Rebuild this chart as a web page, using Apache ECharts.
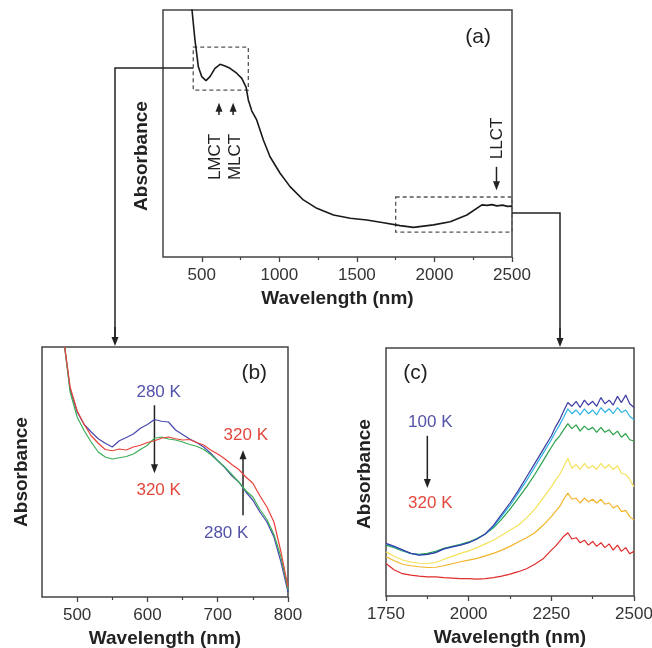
<!DOCTYPE html>
<html>
<head>
<meta charset="utf-8">
<script src="https://cdn.jsdelivr.net/npm/echarts@6/dist/echarts.min.js"></script>
<style>
  html, body { margin: 0; background: #fff; }
  #chart { width: 652px; height: 648px; }
</style>
</head>
<body>
<div id="chart"></div>
<script>
// ---- panel (a): full spectrum ----
const aWl  = [425, 437, 456, 478, 500, 527, 553, 585, 618, 650, 682, 725, 758, 786, 800, 812, 822, 830, 854, 897, 940, 1005, 1069, 1155, 1242, 1349, 1457, 1564, 1672, 1779, 1865, 1994, 2102, 2209, 2306, 2340, 2370, 2403, 2440, 2470, 2500];
const aAbs = [1.06, 1.0, 0.879, 0.770, 0.730, 0.714, 0.730, 0.764, 0.780, 0.773, 0.764, 0.744, 0.723, 0.687, 0.636, 0.612, 0.592, 0.585, 0.555, 0.474, 0.406, 0.339, 0.285, 0.231, 0.197, 0.170, 0.157, 0.150, 0.139, 0.127, 0.120, 0.130, 0.143, 0.170, 0.211, 0.209, 0.212, 0.207, 0.210, 0.205, 0.206];
const aTicks = [500, 1000, 1500, 2000, 2500];
const aMinor = [750, 1250, 1750, 2250];
// zoom boxes [x1, x2, y1, y2]
const boxB = [445, 800, 0.676, 0.850];
const boxC = [1750, 2500, 0.101, 0.243];

// ---- panel (b): 450-800 nm ----
const bWl = [480, 490, 500, 510, 520, 530, 540, 550, 560, 570, 580, 590, 600, 610, 620, 630, 640, 650, 660, 670, 680, 690, 700, 710, 720, 730, 740, 750, 760, 770, 780, 790, 800];
const b280 = [1.05, 0.83, 0.74, 0.69, 0.66, 0.633, 0.615, 0.600, 0.625, 0.638, 0.652, 0.675, 0.690, 0.710, 0.703, 0.700, 0.668, 0.650, 0.632, 0.618, 0.600, 0.575, 0.545, 0.518, 0.485, 0.460, 0.420, 0.387, 0.340, 0.300, 0.240, 0.140, 0.02];
const b300 = [1.05, 0.82, 0.72, 0.665, 0.62, 0.580, 0.560, 0.552, 0.557, 0.562, 0.572, 0.590, 0.607, 0.635, 0.640, 0.632, 0.628, 0.620, 0.610, 0.603, 0.590, 0.570, 0.545, 0.520, 0.490, 0.460, 0.425, 0.400, 0.350, 0.310, 0.250, 0.160, 0.03];
const b320 = [1.05, 0.84, 0.745, 0.69, 0.645, 0.615, 0.590, 0.585, 0.592, 0.588, 0.600, 0.607, 0.618, 0.625, 0.635, 0.640, 0.633, 0.628, 0.630, 0.618, 0.608, 0.588, 0.572, 0.553, 0.530, 0.510, 0.480, 0.455, 0.405, 0.360, 0.300, 0.180, 0.04];
const bTicks = [500, 600, 700, 800];
const bMinor = [550, 650, 750];

// ---- panel (c): 1750-2500 nm ----
const cWl = [1750, 1775, 1800, 1825, 1850, 1875, 1900, 1925, 1950, 1975, 2000, 2025, 2050, 2075, 2100, 2125, 2150, 2175, 2200, 2225,
             2250, 2262, 2275, 2287, 2300, 2312, 2325, 2337, 2350, 2362, 2375, 2387, 2400, 2412, 2425, 2437, 2450, 2462, 2475, 2487, 2500];
const c100 = [0.212, 0.200, 0.186, 0.172, 0.165, 0.168, 0.175, 0.190, 0.198, 0.205, 0.215, 0.230, 0.250, 0.285, 0.330, 0.375, 0.425, 0.480, 0.535, 0.590,
              0.645, 0.680, 0.710, 0.745, 0.780, 0.765, 0.785, 0.760, 0.790, 0.770, 0.785, 0.765, 0.800, 0.775, 0.790, 0.770, 0.805, 0.780, 0.810, 0.775, 0.760];
const c150 = [0.210, 0.198, 0.184, 0.172, 0.166, 0.168, 0.176, 0.190, 0.198, 0.206, 0.215, 0.230, 0.250, 0.280, 0.322, 0.365, 0.415, 0.465, 0.520, 0.575,
              0.630, 0.660, 0.690, 0.720, 0.755, 0.735, 0.750, 0.730, 0.755, 0.735, 0.750, 0.730, 0.760, 0.740, 0.755, 0.735, 0.760, 0.740, 0.750, 0.725, 0.710];
const c200 = [0.205, 0.195, 0.182, 0.172, 0.168, 0.172, 0.180, 0.192, 0.200, 0.208, 0.218, 0.232, 0.250, 0.275, 0.310, 0.350, 0.395, 0.440, 0.490, 0.545,
              0.600, 0.625, 0.645, 0.670, 0.695, 0.675, 0.690, 0.665, 0.685, 0.670, 0.680, 0.660, 0.680, 0.660, 0.670, 0.650, 0.665, 0.640, 0.655, 0.630, 0.625];
const c250 = [0.178, 0.160, 0.145, 0.137, 0.132, 0.131, 0.135, 0.148, 0.160, 0.172, 0.182, 0.195, 0.210, 0.225, 0.245, 0.265, 0.285, 0.315, 0.350, 0.395,
              0.440, 0.465, 0.490, 0.520, 0.555, 0.515, 0.530, 0.510, 0.535, 0.515, 0.525, 0.510, 0.535, 0.515, 0.530, 0.510, 0.525, 0.495, 0.490, 0.470, 0.440];
const c280 = [0.158, 0.142, 0.128, 0.122, 0.118, 0.115, 0.116, 0.122, 0.130, 0.138, 0.145, 0.152, 0.162, 0.172, 0.185, 0.200, 0.218, 0.235, 0.255, 0.285,
              0.320, 0.340, 0.360, 0.390, 0.415, 0.390, 0.395, 0.375, 0.395, 0.380, 0.390, 0.375, 0.390, 0.370, 0.375, 0.355, 0.365, 0.340, 0.345, 0.320, 0.306];
const c320 = [0.131, 0.105, 0.090, 0.084, 0.080, 0.077, 0.077, 0.074, 0.072, 0.070, 0.070, 0.068, 0.070, 0.074, 0.080, 0.088, 0.098, 0.110, 0.128, 0.150,
              0.185, 0.200, 0.220, 0.240, 0.255, 0.230, 0.235, 0.215, 0.225, 0.205, 0.220, 0.200, 0.215, 0.195, 0.210, 0.185, 0.205, 0.180, 0.195, 0.170, 0.180];
const cTicks = [1750, 2000, 2250, 2500];
const cMinor = [1875, 2125, 2375];

const FONT = '"Liberation Sans", Arial, sans-serif';
const AXIS = '#444';
const BLUE_T = '#5252a8';
const RED_T = '#e2473c';

const zip = (xs, ys) => xs.map((x, i) => [x, ys[i]]);

function lineSeries(g, xs, ys, color, width) {
    return {
        type: 'line', xAxisIndex: g, yAxisIndex: g,
        data: zip(xs, ys), showSymbol: false, symbol: 'none',
        lineStyle: { color: color, width: width }, silent: true, animation: false
    };
}

function majorAxis(g, min, max, ticks) {
    return {
        type: 'value', gridIndex: g, min: min, max: max, position: 'bottom',
        name: 'Wavelength (nm)', nameLocation: 'middle', nameGap: 32,
        nameTextStyle: { fontFamily: FONT, fontWeight: 'bold', fontSize: 19, color: '#222' },
        axisLine: { show: false },
        axisTick: { show: true, length: 5, customValues: ticks, lineStyle: { color: AXIS, width: 1.3 } },
        axisLabel: { customValues: ticks, margin: 10, fontFamily: FONT, fontSize: 17, color: '#333', formatter: v => String(v) },
        splitLine: { show: false }
    };
}
function minorAxis(g, min, max, ticks) {
    return {
        type: 'value', gridIndex: g, min: min, max: max, position: 'bottom',
        axisLine: { show: false },
        axisTick: { show: true, length: 3, customValues: ticks, lineStyle: { color: AXIS, width: 1.2 } },
        axisLabel: { show: false }, splitLine: { show: false }
    };
}
function yAxis(g) {
    return {
        type: 'value', gridIndex: g, min: 0, max: 1,
        axisLine: { show: false }, axisTick: { show: false },
        axisLabel: { show: false }, splitLine: { show: false }
    };
}

const gridStyle = { show: true, borderColor: AXIS, borderWidth: 1.5, backgroundColor: 'transparent', outerBoundsMode: 'none', containLabel: false };

const seriesA = lineSeries(0, aWl, aAbs, '#1a1a1a', 1.6);
seriesA.markArea = {
    silent: true,
    itemStyle: { color: 'rgba(0,0,0,0)', borderColor: '#555', borderWidth: 1.3, borderType: [4, 3] },
    data: [
        [{ coord: [boxB[0], boxB[3]] }, { coord: [boxB[1], boxB[2]] }],
        [{ coord: [boxC[0], boxC[3]] }, { coord: [boxC[1], boxC[2]] }]
    ]
};

const option = {
    backgroundColor: '#fff',
    animation: false,
    grid: [
        Object.assign({ left: 163, top: 10, width: 349, height: 247 }, gridStyle),
        Object.assign({ left: 42, top: 347, width: 246, height: 250 }, gridStyle),
        Object.assign({ left: 386, top: 348, width: 248, height: 248 }, gridStyle)
    ],
    xAxis: [
        majorAxis(0, 250, 2500, aTicks),
        majorAxis(1, 450, 800, bTicks),
        majorAxis(2, 1750, 2500, cTicks),
        minorAxis(0, 250, 2500, aMinor),
        minorAxis(1, 450, 800, bMinor),
        minorAxis(2, 1750, 2500, cMinor)
    ],
    yAxis: [yAxis(0), yAxis(1), yAxis(2)],
    series: [
        seriesA,
        lineSeries(1, bWl, b280, '#4848b0', 1.2),
        lineSeries(1, bWl, b300, '#3cae58', 1.2),
        lineSeries(1, bWl, b320, '#e8433a', 1.2),
        lineSeries(2, cWl, c320, '#e02c2c', 1.2),
        lineSeries(2, cWl, c280, '#f2b42a', 1.2),
        lineSeries(2, cWl, c250, '#f4e25a', 1.2),
        lineSeries(2, cWl, c200, '#28a048', 1.2),
        lineSeries(2, cWl, c150, '#2ab2e2', 1.2),
        lineSeries(2, cWl, c100, '#3a3aa2', 1.2)
    ]
};

const chart = echarts.init(document.getElementById('chart'));
chart.setOption(option);

// ---- annotations ----
const px = (g, pt) => chart.convertToPixel({ xAxisIndex: g, yAxisIndex: g }, pt);
const els = [];

function text(x, y, str, color, size, rot, weight) {
    els.push({
        type: 'text', x: x, y: y, rotation: rot || 0, silent: true,
        style: {
            text: str, fill: color, font: (weight || 'normal') + ' ' + size + 'px ' + FONT,
            textAlign: 'center', textVerticalAlign: 'middle', align: 'center', verticalAlign: 'middle'
        }
    });
}
function arrow(x1, y1, x2, y2) {
    const d = Math.sign(y2 - y1);
    els.push({ type: 'line', silent: true, shape: { x1: x1, y1: y1, x2: x2, y2: y2 - d * 7 }, style: { stroke: '#222', lineWidth: 1.5 } });
    els.push({ type: 'polygon', silent: true, shape: { points: [[x2, y2], [x2 - 3.5, y2 - d * 9], [x2 + 3.5, y2 - d * 9]] }, style: { fill: '#222' } });
}

// panel titles and y names
const ta = px(0, [2282, 0.89]); text(ta[0], ta[1], '(a)', '#222', 21);
const tb = px(1, [752, 0.895]); text(tb[0], tb[1], '(b)', '#222', 21);
const tc = px(2, [1839, 0.90]); text(tc[0], tc[1], '(c)', '#222', 21);
text(142, 156, 'Absorbance', '#222', 19, Math.PI / 2, 'bold');
text(22, 472, 'Absorbance', '#222', 19, Math.PI / 2, 'bold');
text(365, 474, 'Absorbance', '#222', 19, Math.PI / 2, 'bold');

// panel (a) band labels
let p1 = px(0, [611, 0.575]), p2 = px(0, [611, 0.625]); arrow(p1[0], p1[1], p2[0], p2[1]);
p1 = px(0, [702, 0.575]); p2 = px(0, [702, 0.625]); arrow(p1[0], p1[1], p2[0], p2[1]);
let t = px(0, [590, 0.405]); text(t[0], t[1], 'LMCT', '#222', 17, Math.PI / 2);
t = px(0, [718, 0.405]); text(t[0], t[1], 'MLCT', '#222', 17, Math.PI / 2);
t = px(0, [2405, 0.48]); text(t[0], t[1], 'LLCT', '#222', 17, Math.PI / 2);
p1 = px(0, [2400, 0.365]); p2 = px(0, [2400, 0.27]); arrow(p1[0], p1[1], p2[0], p2[1]);

// connectors from zoom boxes to panels (b) and (c)
const lb = px(0, [boxB[0], 0.765]);
const gb = px(1, [450, 1]);
els.push({ type: 'polyline', silent: true, shape: { points: [[lb[0], lb[1]], [115, lb[1]], [115, gb[1] - 7]] }, style: { stroke: '#222', lineWidth: 1.5, fill: null } });
arrow(115, gb[1] - 20, 115, gb[1] - 1);
const rc = px(0, [boxC[1], 0.178]);
const gc = px(2, [1750, 1]);
els.push({ type: 'polyline', silent: true, shape: { points: [[rc[0], rc[1]], [560, rc[1]], [560, gc[1] - 7]] }, style: { stroke: '#222', lineWidth: 1.5, fill: null } });
arrow(560, gc[1] - 20, 560, gc[1] - 1);

// panel (b) temperature labels
p1 = px(1, [610, 0.767]); p2 = px(1, [610, 0.495]); arrow(p1[0], p1[1], p2[0], p2[1]);
p1 = px(1, [736, 0.327]); p2 = px(1, [736, 0.587]); arrow(p1[0], p1[1], p2[0], p2[1]);
t = px(1, [616, 0.819]); text(t[0], t[1], '280 K', BLUE_T, 17);
t = px(1, [616, 0.427]); text(t[0], t[1], '320 K', RED_T, 17);
t = px(1, [740, 0.647]); text(t[0], t[1], '320 K', RED_T, 17);
t = px(1, [712, 0.255]); text(t[0], t[1], '280 K', BLUE_T, 17);

// panel (c) temperature labels
p1 = px(2, [1875, 0.646]); p2 = px(2, [1875, 0.435]); arrow(p1[0], p1[1], p2[0], p2[1]);
t = px(2, [1884, 0.702]); text(t[0], t[1], '100 K', BLUE_T, 17);
t = px(2, [1884, 0.375]); text(t[0], t[1], '320 K', RED_T, 17);

chart.setOption({ graphic: { elements: els } });
</script>
</body>
</html>
